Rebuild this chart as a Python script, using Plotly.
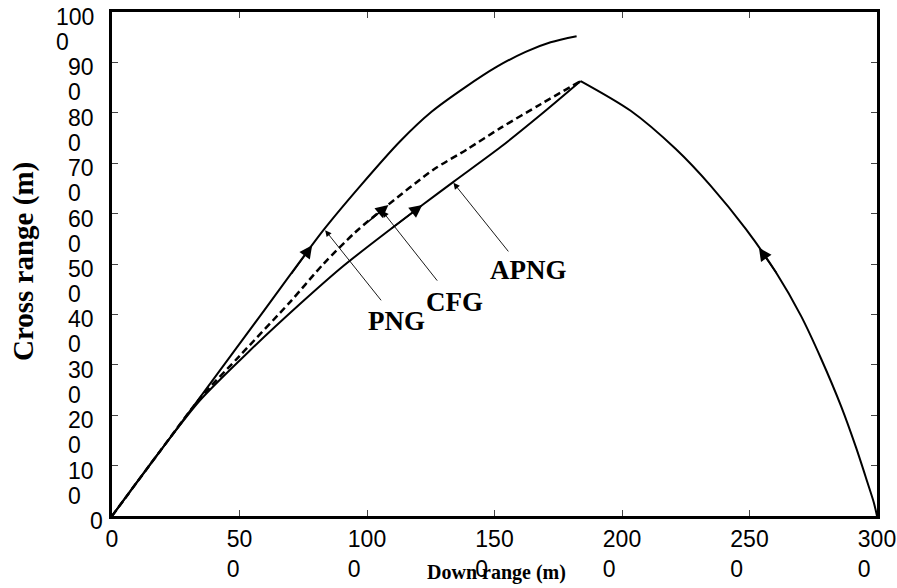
import plotly.graph_objects as go

# ---- data (metres) ----
png_x = [0, 346, 581, 829, 974, 1131, 1253, 1386, 1508, 1622, 1720, 1822]
png_y = [0, 236, 397, 567, 655, 744, 802, 851, 891, 921, 940, 952]

cfg_x = [0, 189, 346, 503, 699, 829, 954, 1072, 1260, 1394, 1524, 1681, 1838]
cfg_y = [0, 129, 234, 319, 425, 500, 563, 613, 687, 728, 770, 817, 863]

apng_x = [0, 189, 346, 534, 738, 907, 1092, 1217, 1339, 1524, 1681, 1838]
apng_y = [0, 129, 230, 325, 421, 496, 569, 617, 663, 732, 796, 863]

tgt_x = [1838, 2034, 2211, 2348, 2486, 2603, 2702, 2780, 2859, 2917, 2961, 2988, 3000]
tgt_y = [863, 804, 728, 655, 569, 484, 397, 313, 218, 137, 69, 26, 0]

x_tickvals = [0, 500, 1000, 1500, 2000, 2500, 3000]
y_tickvals = [0, 100, 200, 300, 400, 500, 600, 700, 800, 900, 1000]

NB = "\u00a0"


def wrap_center(v):
    # label broken before its last digit, second line flush with the first digit
    s = str(v)
    if v == 0:
        return "0"
    head, tail = s[:-1], s[-1]
    return head + "<br>" + tail + NB * (2 * (len(head) - 1))


def wrap_left(v):
    s = str(v)
    big = '<span style="font-size:23px">%s</span>'
    if v == 0:
        return big % "0"
    return big % s[:-1] + "<br>" + big % s[-1]


x_ticktext = [wrap_center(v) for v in x_tickvals]
y_ticktext = [wrap_left(v) for v in y_tickvals]

SERIF = "Liberation Serif, Times New Roman, serif"
SANS = "Liberation Sans, Arial, sans-serif"
TICK_FONT = dict(family=SANS, size=23, color="black")

fig = go.Figure()
line_style = dict(color="black", width=2, shape="spline", smoothing=0.8)
fig.add_trace(go.Scatter(x=png_x, y=png_y, mode="lines", line=line_style, name="PNG"))
fig.add_trace(go.Scatter(x=cfg_x, y=cfg_y, mode="lines",
                         line=dict(color="black", width=2.5, dash="7px,4px",
                                   shape="spline", smoothing=0.8), name="CFG"))
fig.add_trace(go.Scatter(x=apng_x, y=apng_y, mode="lines", line=line_style, name="APNG"))
fig.add_trace(go.Scatter(x=tgt_x, y=tgt_y, mode="lines", line=line_style, name="Target"))

annotations = []


# direction arrowheads on the curves
def head(x, y, ax, ay):
    annotations.append(dict(x=x, y=y, ax=ax, ay=ay, xref="x", yref="y", axref="x", ayref="y",
                            text="", showarrow=True, arrowhead=2, arrowsize=1.6,
                            arrowwidth=1.6, arrowcolor="black"))


head(785, 537, 700, 478)
head(1084, 617, 1000, 582)
head(1217, 617, 1092, 569)
head(2537, 532, 2610, 479)


# label pointers
def pointer(x, y, ax, ay):
    annotations.append(dict(x=x, y=y, ax=ax, ay=ay, xref="x", yref="y", axref="x", ayref="y",
                            text="", showarrow=True, arrowhead=2, arrowsize=1.4,
                            arrowwidth=0.9, arrowcolor="black"))


pointer(836, 567, 1060, 425)
pointer(1060, 605, 1280, 464)
pointer(1339, 661, 1559, 522)

label_font = dict(family=SERIF, size=27, color="black")
for txt, lx, ly in [("PNG", 1115, 387), ("CFG", 1343, 425), ("APNG", 1634, 488)]:
    annotations.append(dict(x=lx, y=ly, xref="x", yref="y", text="<b>%s</b>" % txt,
                            showarrow=False, font=label_font))

# y tick labels (wrapped, left-aligned lines, first line level with the tick)
for v, t in zip(y_tickvals, y_ticktext):
    annotations.append(dict(x=0, y=v, xref="paper", yref="y", text=t, showarrow=False,
                            xanchor="right", yanchor="top", align="left",
                            xshift=-7 if v == 0 else -16, yshift=10,
                            font=dict(family=SANS, size=19, color="black")))

# axis titles
annotations.append(dict(x=0.502, y=-0.113, xref="paper", yref="paper",
                        xanchor="center", yanchor="middle",
                        text="<b>Down range (m)</b>", showarrow=False,
                        font=dict(family=SERIF, size=20, color="black")))
annotations.append(dict(x=-0.115, y=0.504, xref="paper", yref="paper",
                        xanchor="center", yanchor="middle",
                        text="<b>Cross range (m)</b>", showarrow=False, textangle=-90,
                        font=dict(family=SERIF, size=29, color="black")))

axis_common = dict(showgrid=False, zeroline=False, showline=True, linecolor="black",
                   linewidth=3, mirror="ticks", ticks="inside", ticklen=6, tickwidth=1,
                   tickcolor="#444", automargin=False, ticklabeloverflow="allow",
                   tickfont=TICK_FONT)

fig.update_layout(
    width=897, height=588,
    margin=dict(l=112, r=20, t=12, b=72, autoexpand=False),
    paper_bgcolor="white", plot_bgcolor="white",
    showlegend=False,
    annotations=annotations,
    xaxis=dict(range=[0, 3000], tickmode="array", tickvals=x_tickvals, ticktext=x_ticktext,
               **axis_common),
    yaxis=dict(range=[0, 1000], tickmode="array", tickvals=y_tickvals,
               showticklabels=False, **axis_common),
)

fig.write_html("out.html", config={"displayModeBar": False},
               post_script="document.body.style.margin='0';")
